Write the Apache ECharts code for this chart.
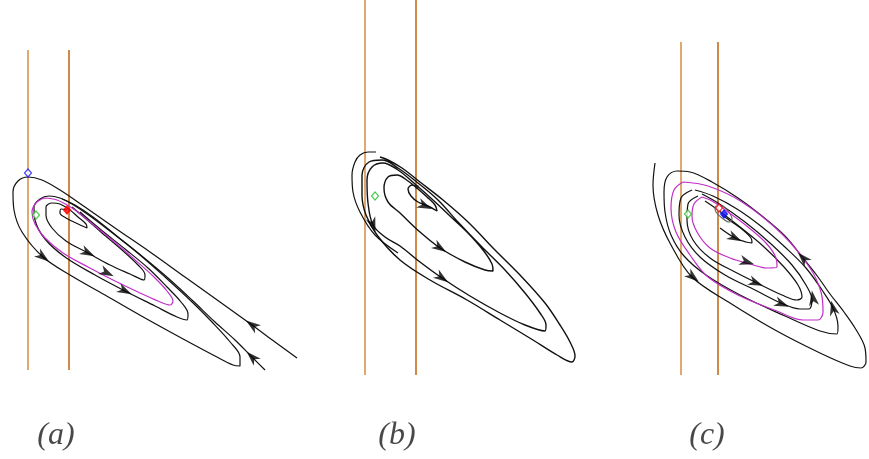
<!DOCTYPE html>
<html><head><meta charset="utf-8">
<script src="https://cdn.jsdelivr.net/npm/echarts@6/dist/echarts.min.js"></script>
<style>html,body{margin:0;padding:0;background:#fff}#c{width:869px;height:459px}</style>
</head><body><div id="c"></div>
<script>
// ---- data (in figure units) ----
const panelLabels = ['(a)', '(b)', '(c)'];
const labelX = [56, 397, 707];
const labelY = 436;

const vLineX = [28, 69, 365, 416, 681, 718];
const vLineTop = [50, 50, 0, 0, 42, 42];
const vLineBottom = [370, 370, 375, 375, 375, 375];
const vLineShade = ['light', 'dark', 'light', 'dark', 'light', 'dark'];

// panel (a)
const a_outer = [[297,358],[275,342],[252,325],[220,302],[185,277],[150,252],[115,228],[85,207],[60,190],[42,180],[28,177],[18,181],[13,192],[14,210],[22,232],[43,257],[70,275],[105,295],[145,318],[185,340],[215,356],[233,365],[240,366],[240,357],[231,343],[212,322],[190,300],[165,277],[140,255],[115,235],[90,216],[72,204],[60,198],[49,196],[40,199],[34,207],[35,220],[45,239],[65,257],[95,275],[125,291],[155,306],[177,317],[187,320],[188,314],[181,302],[167,287],[148,268],[125,249],[100,229],[80,212]];
const a_second = [[265,370],[252,357],[235,340],[215,322],[192,300],[168,278],[143,257],[118,237],[93,217],[75,205],[62,199]];
const a_cycle = [[44,198],[36,203],[32,212],[35,224],[45,238],[63,253],[88,267],[113,280],[138,292],[158,301],[170,305],[173,301],[167,291],[154,277],[134,259],[112,240],[90,222],[72,208],[57,200],[44,198]];
const a_inner = [[67,210],[61,209],[60,213],[66,218],[76,223],[87,228],[86,224],[78,217],[70,210],[60,204],[52,203],[46,207],[46,215],[52,228],[66,241],[88,253],[110,265],[130,274],[144,280],[145,275],[138,265],[122,250],[102,233],[85,218],[72,207]];
const a_arrows = [[252,325,-1,-0.72],[252,357,-1,-1],[43,257,1,0.75],[88,253,1,0.5],[107,273,1,0.5],[125,291,1,0.5]];
const a_blue = [[28,173]];
const a_green = [[36,215]];
const a_red = [[67,210]];

// panel (b)
const b_stub = [[376,152],[368,152],[360,155],[355,162],[352,175],[353,192],[360,212],[375,235],[398,253]];
const b_spiral = [[417,187],[412,185],[408,189],[411,196],[418,202],[428,206],[437,211],[435,205],[427,197],[418,189],[408,181],[397,175],[388,177],[384,188],[388,202],[400,213],[420,232],[440,248],[465,262],[485,270],[493,271],[492,264],[483,250],[467,232],[450,216],[433,200],[415,184],[398,170],[383,163],[372,167],[367,180],[368,203],[373,225],[385,237],[400,246],[420,262],[442,278],[470,296],[500,313],[525,325],[545,331],[546,325],[540,313],[525,293],[505,270],[481,246],[458,222],[438,200],[418,183],[398,168],[382,160],[369,162],[362,175],[362,195],[366,215],[377,235],[400,260],[430,280],[467,300],[500,320],[533,340],[557,355],[572,362],[575,356],[570,342],[560,325],[545,303],[520,275],[495,250],[468,222],[443,200],[420,182],[402,168],[388,160],[380,157]];
const b_arrows = [[373,225,0.35,1],[425,206,1,0.45],[440,248,1,0.65],[442,278,1,0.7]];
const b_green = [[375,196]];
const b_dot = [[417,187]];

// panel (c)
const c_outer = [[655,163],[653,185],[658,215],[671,245],[692,277],[730,303],[775,330],[820,353],[850,366],[861,368],[866,362],[865,348],[855,328],[844,312],[830,294],[818,277],[803,258],[785,236],[762,216],[738,198],[712,182],[690,172],[677,171],[667,177],[664,192],[665,212],[671,235],[684,256],[706,275],[740,295],[785,316],[820,331],[837,334],[838,326],[833,308],[822,290],[806,268],[786,248],[762,227],[737,209],[713,196],[695,190]];
const c_cycleOut = [[683,182],[674,190],[671,208],[676,232],[690,255],[708,277],[740,296],[777,311],[803,320],[818,320],[823,312],[821,292],[810,268],[782,234],[742,202],[708,186],[683,182]];
const c_k3 = [[692,190],[681,198],[679,215],[685,237],[700,257],[725,275],[755,290],[783,304],[800,309],[809,309],[812,300],[806,285],[792,265],[770,243],[745,222],[718,203],[702,194]];
const c_k2 = [[698,196],[688,204],[687,220],[693,240],[710,258],[735,272],[757,283],[782,295],[797,300],[802,297],[798,285],[784,267],[763,246],[740,227],[718,210],[705,201]];
const c_cycleIn = [[702,197],[694,204],[692,216],[697,232],[710,248],[730,258],[750,264],[767,268],[777,267],[776,258],[766,243],[748,227],[728,212],[712,201],[702,197]];
const c_k1 = [[720,228],[735,238],[746,242],[752,243],[751,238],[743,230],[732,222],[722,215]];
const c_small = [[716,206],[722,206],[728,211],[732,219],[729,222],[722,218],[716,212],[715,208],[716,206]];
const c_arrows = [[693,277,1,0.8],[735,238,1,0.5],[747,262,1,0.3],[756,283,1,0.4],[782,304,1,0.4],[803,258,-0.75,-0.8],[813,298,-0.15,-1],[833,308,-0.25,-1]];
const c_green = [[688,214]];
const c_red = [[719,208]];
const c_blue = [[724,214]];

// ---- build ----
const BLACK = '#111', MAG = '#c02fc8', GRAY = '#666';
const ORANGE = {light: '#d68d40', dark: '#c0620c'};
const series = [];
function line(data, color, width) {
  series.push({type: 'line', data: data, smooth: 0.35, symbol: 'none', silent: true,
    lineStyle: {color: color, width: width || 1.2}, z: 3});
}
vLineX.forEach((x, i) => {
  series.push({type: 'line', data: [[x, vLineTop[i]], [x, vLineBottom[i]]], symbol: 'none', silent: true,
    lineStyle: {color: ORANGE[vLineShade[i]], width: 1.5}, z: 2});
});
[a_outer, a_second, a_inner, b_stub, c_outer, c_k3, c_k2, c_k1].forEach(d => line(d, BLACK, 1.2));
line(b_spiral, BLACK, 1.4);
line(c_small, GRAY, 1.2);
[a_cycle, c_cycleOut, c_cycleIn].forEach(d => line(d, MAG, 1.2));

const arrowPath = 'path://M0,0 L14,5 L0,10 L4,5 Z';
const allArrows = a_arrows.concat(b_arrows, c_arrows);
series.push({type: 'scatter', silent: true, z: 6,
  data: allArrows.map(a => ({value: [a[0], a[1]], symbolRotate: -Math.atan2(a[3], a[2]) * 180 / Math.PI})),
  symbol: arrowPath, symbolSize: [15, 10], itemStyle: {color: '#000'}});

function marker(data, fill, border, size) {
  series.push({type: 'scatter', silent: true, z: 7, data: data, symbol: 'diamond', symbolSize: size || [7, 8],
    itemStyle: {color: fill, borderColor: border, borderWidth: 1.2}});
}
marker(a_blue, '#fff', '#1010ff');
marker(a_green, '#fff', '#20c020');
marker(a_red, '#ff0000', '#ff0000');
marker(b_green, '#fff', '#20c020');
marker(c_green, '#fff', '#20c020');
marker(c_red, '#fff', '#ff0000');
marker(c_blue, '#1010ff', '#1010ff');
series.push({type: 'scatter', silent: true, z: 7, data: b_dot, symbol: 'circle', symbolSize: 4, itemStyle: {color: '#222'}});

series.push({type: 'scatter', silent: true, z: 8, symbolSize: 0,
  data: panelLabels.map((t, i) => ({value: [labelX[i], labelY], name: t})),
  label: {show: true, position: 'inside', formatter: p => p.name, color: '#1a1a1a',
    fontFamily: "'Liberation Serif', 'DejaVu Serif', serif", fontStyle: 'italic', fontSize: 32}});

const chart = echarts.init(document.getElementById('c'), null, {renderer: 'canvas'});
chart.setOption({
  animation: false,
  backgroundColor: '#fff',
  grid: {left: 0, right: 0, top: 0, bottom: 0},
  xAxis: {type: 'value', min: 0, max: 869, show: false},
  yAxis: {type: 'value', min: 0, max: 459, inverse: true, show: false},
  series: series
});
</script></body></html>
